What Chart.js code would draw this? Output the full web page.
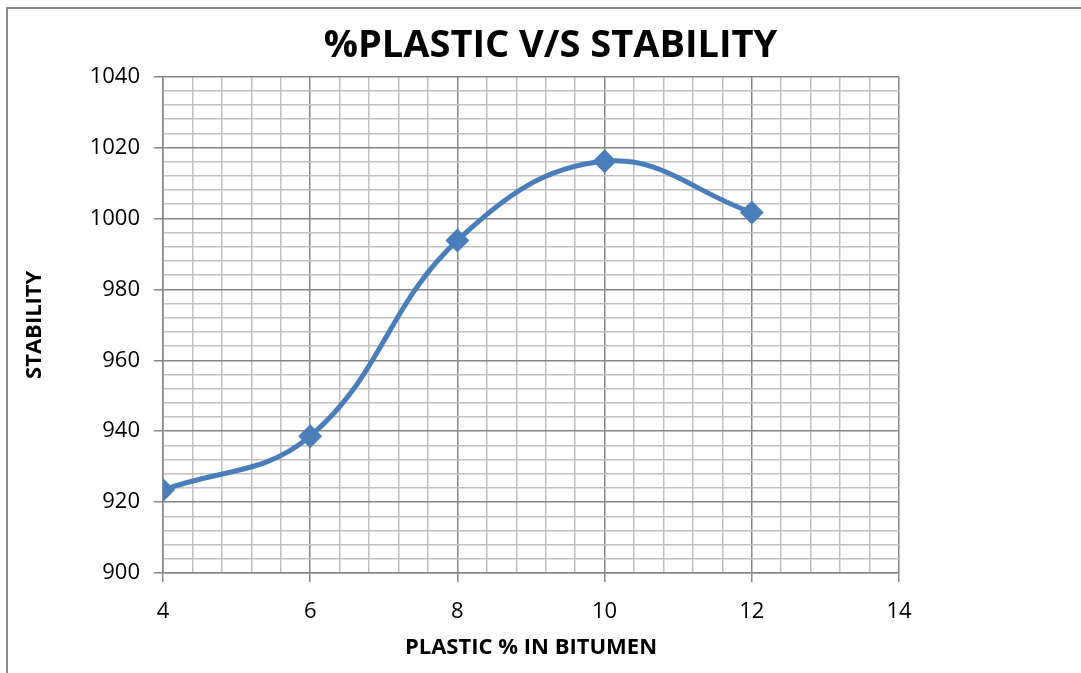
<!DOCTYPE html>
<html>
<head>
<meta charset="utf-8">
<script src="https://cdn.jsdelivr.net/npm/chart.js@4.4.0/dist/chart.umd.min.js"></script>
<style>
  html, body { margin: 0; padding: 0; background: #fff; }
  #wrap { position: relative; width: 1081px; height: 673px; overflow: hidden; }
  #frame { position: absolute; left: 6px; top: 7px; width: 1100px; height: 700px;
           border-left: 2px solid #8c8c8c; border-top: 2px solid #8c8c8c; }
  canvas { position: absolute; left: 0; top: 0; }
</style>
</head>
<body>
<div id="wrap">
  <div id="frame"></div>
  <canvas id="chart" width="1081" height="673"></canvas>
</div>
<script>
// data
const plasticPct = [4, 6, 8, 10, 12];
const stability = [923.4, 938.6, 993.8, 1016.1, 1001.7];

const xMin = 4, xMax = 14, xStep = 0.4, xMajor = 2;
const yMin = 900, yMax = 1040, yStep = 4, yMajor = 20;

const FONT = "'Open Sans', 'Noto Sans', sans-serif";
const blue = '#4a7ebb';

// true when v sits on a major gridline
function isMajor(v, step) {
  return Math.abs(v / step - Math.round(v / step)) < 1e-6;
}

const points = plasticPct.map((x, i) => ({ x: x, y: stability[i] }));

new Chart(document.getElementById('chart').getContext('2d'), {
  type: 'line',
  data: {
    datasets: [{
      data: points,
      borderColor: blue,
      backgroundColor: blue,
      borderWidth: 5,
      tension: 0.4,
      fill: false,
      pointStyle: 'rectRot',
      pointRadius: 12,
      pointHoverRadius: 12,
      pointBorderWidth: 0
    }]
  },
  options: {
    responsive: false,
    animation: false,
    layout: { padding: { left: 20, right: 0, top: 11, bottom: 10 } },
    plugins: {
      legend: { display: false },
      tooltip: { enabled: false },
      title: {
        display: true,
        text: '%PLASTIC V/S STABILITY',
        color: '#000',
        font: { family: FONT, size: 38, weight: 'bold' },
        padding: { top: 12, bottom: 8 }
      }
    },
    scales: {
      x: {
        type: 'linear',
        min: xMin,
        max: xMax,
        afterFit: s => { s.height = 90; },
        ticks: {
          stepSize: xStep,
          autoSkip: false,
          maxRotation: 0,
          padding: 17,
          color: '#000',
          font: { family: FONT, size: 22 },
          callback: v => isMajor(v, xMajor) ? String(Math.round(v)) : ''
        },
        grid: {
          color: c => isMajor(c.tick.value, xMajor) ? '#868686' : '#c0c0c0',
          tickColor: c => isMajor(c.tick.value, xMajor) ? '#868686' : 'rgba(0,0,0,0)',
          tickLength: 9,
          lineWidth: 1.5
        },
        border: { color: '#868686', width: 1.5 },
        title: {
          display: true,
          text: 'PLASTIC % IN BITUMEN',
          color: '#000',
          font: { family: FONT, size: 22, weight: 'bold' },
          padding: { top: 0, bottom: 2 }
        }
      },
      y: {
        type: 'linear',
        min: yMin,
        max: yMax,
        afterFit: s => { s.width = 143; },
        ticks: {
          stepSize: yStep,
          autoSkip: false,
          padding: 14,
          color: '#000',
          font: { family: FONT, size: 22 },
          callback: v => isMajor(v, yMajor) ? String(Math.round(v)) : ''
        },
        grid: {
          color: c => isMajor(c.tick.value, yMajor) ? '#868686' : '#c0c0c0',
          tickColor: c => isMajor(c.tick.value, yMajor) ? '#868686' : 'rgba(0,0,0,0)',
          tickLength: 9,
          lineWidth: 1.5
        },
        border: { color: '#868686', width: 1.5 },
        title: {
          display: true,
          text: 'STABILITY',
          color: '#000',
          font: { family: FONT, size: 22, weight: 'bold' },
          padding: { top: 2, bottom: 0 }
        }
      },
      // empty right-hand box so the plot ends where the reference does
      yPad: {
        position: 'right',
        afterFit: s => { s.width = 182; },
        ticks: { display: false },
        grid: { drawOnChartArea: false, drawTicks: false },
        border: { display: false }
      }
    }
  }
});
</script>
</body>
</html>
